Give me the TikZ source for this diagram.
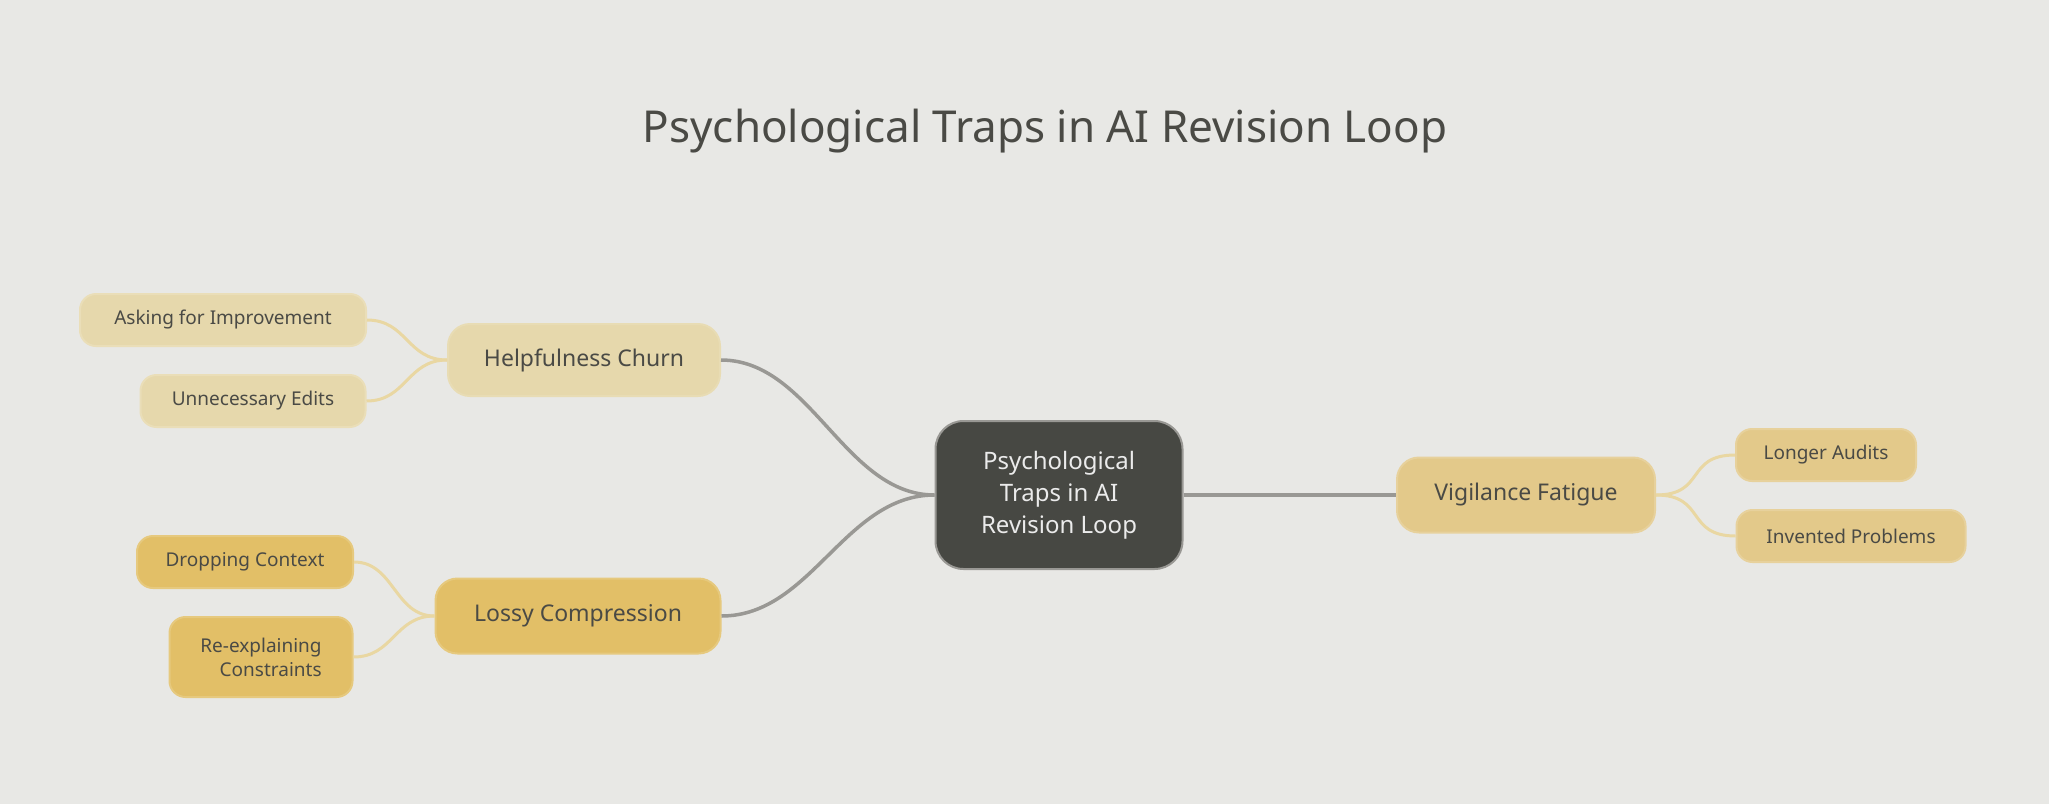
\documentclass[tikz,border=0pt]{standalone}
\usepackage{fontspec}
\setmainfont{Noto Sans}
\begin{document}
\begin{tikzpicture}[x=1pt,y=-1pt,
  box/.style={rounded corners=16pt,draw,line width=2pt,inner sep=0pt,align=center,text=txt,font=\fontsize{19}{24}\selectfont\bfseries},
  mid/.style={box,rounded corners=22pt,font=\fontsize{23}{28}\selectfont\bfseries},
  main/.style={draw=edge,line width=3.5pt},
  sub/.style={draw=leafedge,line width=3pt}]
\definecolor{bg}{HTML}{E8E8E5}
\definecolor{txt}{HTML}{4A4A45}
\definecolor{edge}{HTML}{999894}
\definecolor{leafedge}{HTML}{E9D7A2}
\definecolor{hc}{HTML}{E6D8AC}
\definecolor{lc}{HTML}{E2BF67}
\definecolor{vc}{HTML}{E3C98A}
\definecolor{cc}{HTML}{474843}
\useasboundingbox (0,0) rectangle (2049,806);
\fill[bg] (0,0) rectangle (2049,804);
\node[text=txt,font=\fontsize{44}{52}\selectfont\bfseries] (title) at (1045,131) {Psychological Traps in AI Revision Loop};
% edges first drawn later via on background ordering: draw nodes, then edges beneath using named anchors
\node[mid,fill=hc,draw=hc!90!white,minimum width=272,minimum height=72] (hcn) at (584,360) {Helpfulness Churn};
\node[mid,fill=lc,draw=lc!85!white,minimum width=285,minimum height=75] (lcn) at (578,616) {Lossy Compression};
\node[mid,fill=vc,draw=vc!85!white,minimum width=258,minimum height=75] (vcn) at (1526,495) {Vigilance Fatigue};
\node[box,fill=cc,draw=edge,text=white!92!black,rounded corners=28pt,minimum width=247,minimum height=148,font=\fontsize{24}{32}\selectfont\bfseries] (c) at (1059,495) {Psychological\\Traps in AI\\Revision Loop};
\node[box,fill=hc,draw=hc!85!white,minimum width=286,minimum height=52] (a1) at (223,320) {Asking for Improvement};
\node[box,fill=hc,draw=hc!85!white,minimum width=225,minimum height=52] (a2) at (253,401) {Unnecessary Edits};
\node[box,fill=lc,draw=lc!85!white,minimum width=216,minimum height=52] (b1) at (245,562) {Dropping Context};
\node[box,fill=lc,draw=lc!85!white,minimum width=183,minimum height=80,align=right] (b2) at (261,657) {Re-explaining\\Constraints};
\node[box,fill=vc,draw=vc!85!white,minimum width=180,minimum height=52] (v1) at (1826,455) {Longer Audits};
\node[box,fill=vc,draw=vc!85!white,minimum width=229,minimum height=52] (v2) at (1851,536) {Invented Problems};
\draw[main] (c.west) .. controls +(-90,0) and +(90,0) .. (hcn.east);
\draw[main] (c.west) .. controls +(-90,0) and +(90,0) .. (lcn.east);
\draw[main] (c.east) -- (vcn.west);
\draw[sub] (hcn.west) .. controls +(-40,0) and +(40,0) .. (a1.east);
\draw[sub] (hcn.west) .. controls +(-40,0) and +(40,0) .. (a2.east);
\draw[sub] (lcn.west) .. controls +(-40,0) and +(40,0) .. (b1.east);
\draw[sub] (lcn.west) .. controls +(-40,0) and +(40,0) .. (b2.east);
\draw[sub] (vcn.east) .. controls +(50,0) and +(-50,0) .. (v1.west);
\draw[sub] (vcn.east) .. controls +(50,0) and +(-50,0) .. (v2.west);
\end{tikzpicture}
\end{document}
